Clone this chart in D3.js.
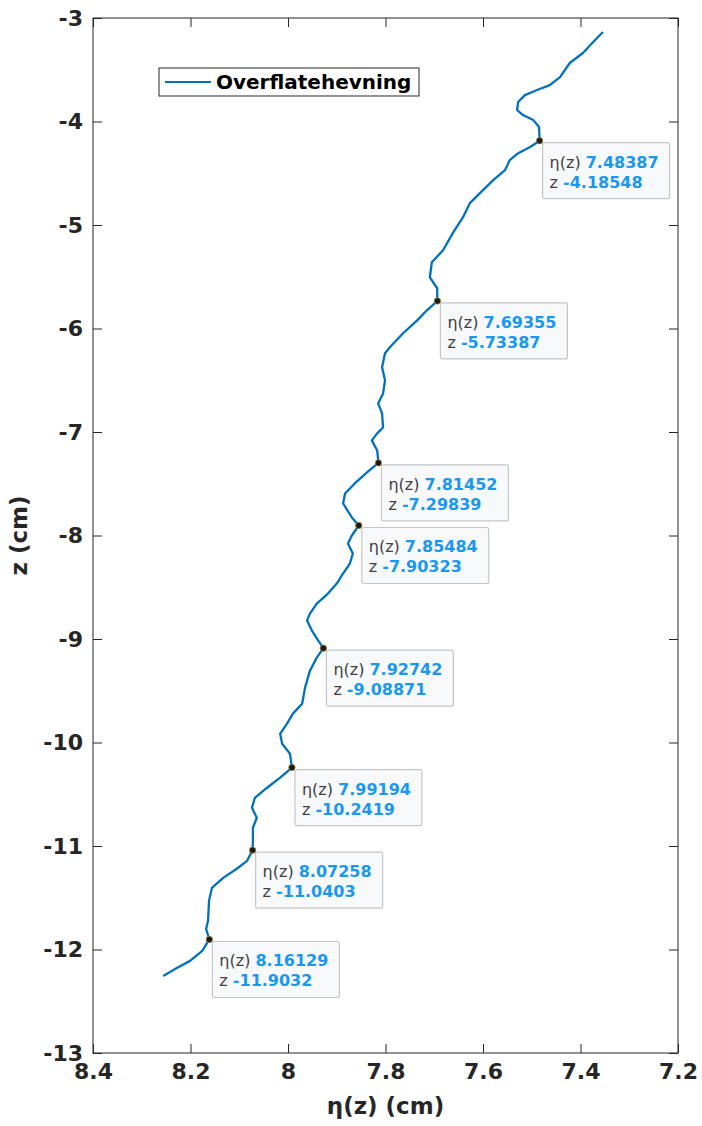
<!DOCTYPE html>
<html>
<head>
<meta charset="utf-8">
<script src="https://cdn.jsdelivr.net/npm/d3@7"></script>
<style>
  body { margin: 0; background: #fff; }
  svg { display: block; font-family: "DejaVu Sans", sans-serif; }
</style>
</head>
<body>
<main></main>
<script>
// surface elevation profile (top -> bottom)
let eta = [7.354, 7.374, 7.395, 7.422, 7.442, 7.463, 7.489, 7.514, 7.528, 7.530,
           7.518, 7.497, 7.485, 7.48387, 7.504, 7.528, 7.545, 7.555, 7.579, 7.600,
           7.627, 7.641, 7.662, 7.682, 7.705, 7.709, 7.694, 7.69355, 7.715, 7.735,
           7.764, 7.791, 7.801, 7.807, 7.801, 7.805, 7.815, 7.807, 7.805, 7.817,
           7.828, 7.817, 7.81452, 7.838, 7.863, 7.883, 7.887, 7.869, 7.85484, 7.869,
           7.877, 7.867, 7.873, 7.887, 7.900, 7.918, 7.941, 7.955, 7.961, 7.951,
           7.938, 7.92742, 7.941, 7.955, 7.965, 7.971, 7.990, 8.002, 8.016, 8.012,
           7.996, 7.99194, 8.016, 8.043, 8.068, 8.074, 8.064, 8.072, 8.072, 8.07258,
           8.084, 8.105, 8.133, 8.156, 8.162, 8.164, 8.168, 8.16129, 8.176, 8.201,
           8.228, 8.256]
let z = [-3.135, -3.232, -3.338, -3.435, -3.571, -3.648, -3.696, -3.745, -3.812, -3.890,
         -3.938, -3.986, -4.054, -4.18548, -4.248, -4.306, -4.373, -4.470, -4.567, -4.663,
         -4.789, -4.925, -5.079, -5.244, -5.360, -5.505, -5.611, -5.73387, -5.824, -5.921,
         -6.046, -6.182, -6.240, -6.375, -6.501, -6.627, -6.723, -6.820, -6.956, -7.013,
         -7.081, -7.178, -7.29839, -7.391, -7.497, -7.594, -7.690, -7.826, -7.90323, -8.000,
         -8.077, -8.174, -8.271, -8.367, -8.464, -8.561, -8.658, -8.754, -8.822, -8.919,
         -9.015, -9.08871, -9.180, -9.306, -9.470, -9.625, -9.721, -9.818, -9.915, -10.012,
         -10.108, -10.2419, -10.340, -10.437, -10.534, -10.631, -10.727, -10.824, -10.950, -11.0403,
         -11.143, -11.220, -11.308, -11.404, -11.530, -11.723, -11.801, -11.9032, -12.013, -12.110,
         -12.178, -12.255]

// data tips
let tipEta = ['7.48387', '7.69355', '7.81452', '7.85484', '7.92742', '7.99194', '8.07258', '8.16129']
let tipZ = ['-4.18548', '-5.73387', '-7.29839', '-7.90323', '-9.08871', '-10.2419', '-11.0403', '-11.9032']

let xTicks = [8.4, 8.2, 8, 7.8, 7.6, 7.4, 7.2]
let yTicks = [-13, -12, -11, -10, -9, -8, -7, -6, -5, -4, -3]
let seriesName = 'Overflatehevning'

let W = 702, H = 1126
let margin = {top: 18, right: 24, bottom: 73, left: 93}
let axisColor = '#262626'
let lineColor = '#0072bd'

let svg = d3.select('main').append('svg')
  .attr('width', W)
  .attr('height', H)

let x = d3.scaleLinear()
  .domain([8.4, 7.2])
  .range([margin.left, W - margin.right])

let y = d3.scaleLinear()
  .domain([-13, -3])
  .range([H - margin.bottom, margin.top])

let tickLen = 9
let fmt = d => String(d)  // plain hyphen, like matlab

// axes: labels outside, ticks pointing inward
let gx = svg.append('g')
  .attr('transform', `translate(0, ${H - margin.bottom})`)
  .call(d3.axisBottom(x).tickValues(xTicks).tickFormat(fmt).tickSizeInner(-tickLen).tickSizeOuter(0).tickPadding(10))
let gy = svg.append('g')
  .attr('transform', `translate(${margin.left}, 0)`)
  .call(d3.axisLeft(y).tickValues(yTicks).tickFormat(fmt).tickSizeInner(-tickLen).tickSizeOuter(0).tickPadding(10))
let gxTop = svg.append('g')
  .attr('transform', `translate(0, ${margin.top})`)
  .call(d3.axisTop(x).tickValues(xTicks).tickFormat('').tickSizeInner(-tickLen).tickSizeOuter(0))
let gyRight = svg.append('g')
  .attr('transform', `translate(${W - margin.right}, 0)`)
  .call(d3.axisRight(y).tickValues(yTicks).tickFormat('').tickSizeInner(-tickLen).tickSizeOuter(0))

for (let g of [gx, gy, gxTop, gyRight]) {
  g.select('.domain').remove()
  g.selectAll('line').attr('stroke', axisColor)
  g.selectAll('text')
    .attr('fill', axisColor)
    .style('font-size', '22px')
    .style('font-weight', 'bold')
    .style('font-family', '"DejaVu Sans", sans-serif')
}
gy.selectAll('text').attr('dy', '0.32em')

// box
svg.append('rect')
  .attr('x', margin.left)
  .attr('y', margin.top)
  .attr('width', W - margin.left - margin.right)
  .attr('height', H - margin.top - margin.bottom)
  .attr('fill', 'none')
  .attr('stroke', axisColor)
  .attr('stroke-width', 1)

// axis titles
svg.append('text')
  .attr('x', (margin.left + W - margin.right) / 2)
  .attr('y', H - 12)
  .attr('text-anchor', 'middle')
  .attr('fill', axisColor)
  .style('font-size', '23px')
  .style('font-weight', 'bold')
  .text('η(z) (cm)')

svg.append('text')
  .attr('transform', `translate(27, ${(margin.top + H - margin.bottom) / 2}) rotate(-90)`)
  .attr('text-anchor', 'middle')
  .attr('fill', axisColor)
  .style('font-size', '23px')
  .style('font-weight', 'bold')
  .text('z (cm)')

// the profile
let pts = eta.map((e, i) => [e, z[i]])
let line = d3.line()
  .x(d => x(d[0]))
  .y(d => y(d[1]))

svg.append('path')
  .datum(pts)
  .attr('d', line)
  .attr('fill', 'none')
  .attr('stroke', lineColor)
  .attr('stroke-width', 2.3)
  .attr('stroke-linejoin', 'round')

// legend
let lg = svg.append('g').attr('transform', 'translate(159, 68)')
lg.append('rect')
  .attr('width', 260)
  .attr('height', 28)
  .attr('fill', '#fff')
  .attr('stroke', axisColor)
lg.append('line')
  .attr('x1', 6).attr('x2', 52)
  .attr('y1', 14).attr('y2', 14)
  .attr('stroke', lineColor)
  .attr('stroke-width', 2)
lg.append('text')
  .attr('x', 57)
  .attr('y', 21)
  .attr('fill', '#000')
  .style('font-size', '20px')
  .style('font-weight', 'bold')
  .text(seriesName)

// data tips
let tips = tipEta.map((e, i) => ({e: e, z: tipZ[i]}))
let tg = svg.append('g')
  .selectAll('g')
  .data(tips)
  .enter()
  .append('g')
  .attr('transform', d => `translate(${x(+d.e)}, ${y(+d.z)})`)

tg.append('rect')
  .attr('x', 3)
  .attr('y', 2)
  .attr('width', 127)
  .attr('height', 56)
  .attr('rx', 2)
  .attr('fill', '#f8f9fb')
  .attr('stroke', '#c6c6c6')
  .attr('stroke-width', 1.2)

let t1 = tg.append('text').attr('x', 10).attr('y', 27).style('font-size', '16px')
t1.append('tspan').attr('fill', '#404040').text('η(z) ')
t1.append('tspan').attr('fill', '#1a98f0').style('font-weight', 'bold').text(d => d.e)

let t2 = tg.append('text').attr('x', 10).attr('y', 47).style('font-size', '16px')
t2.append('tspan').attr('fill', '#404040').text('z ')
t2.append('tspan').attr('fill', '#1a98f0').style('font-weight', 'bold').text(d => d.z)

tg.append('circle')
  .attr('r', 3.2)
  .attr('fill', '#1a1a1a')
  .attr('stroke', '#a08830')
  .attr('stroke-width', 0.8)
</script>
</body>
</html>
